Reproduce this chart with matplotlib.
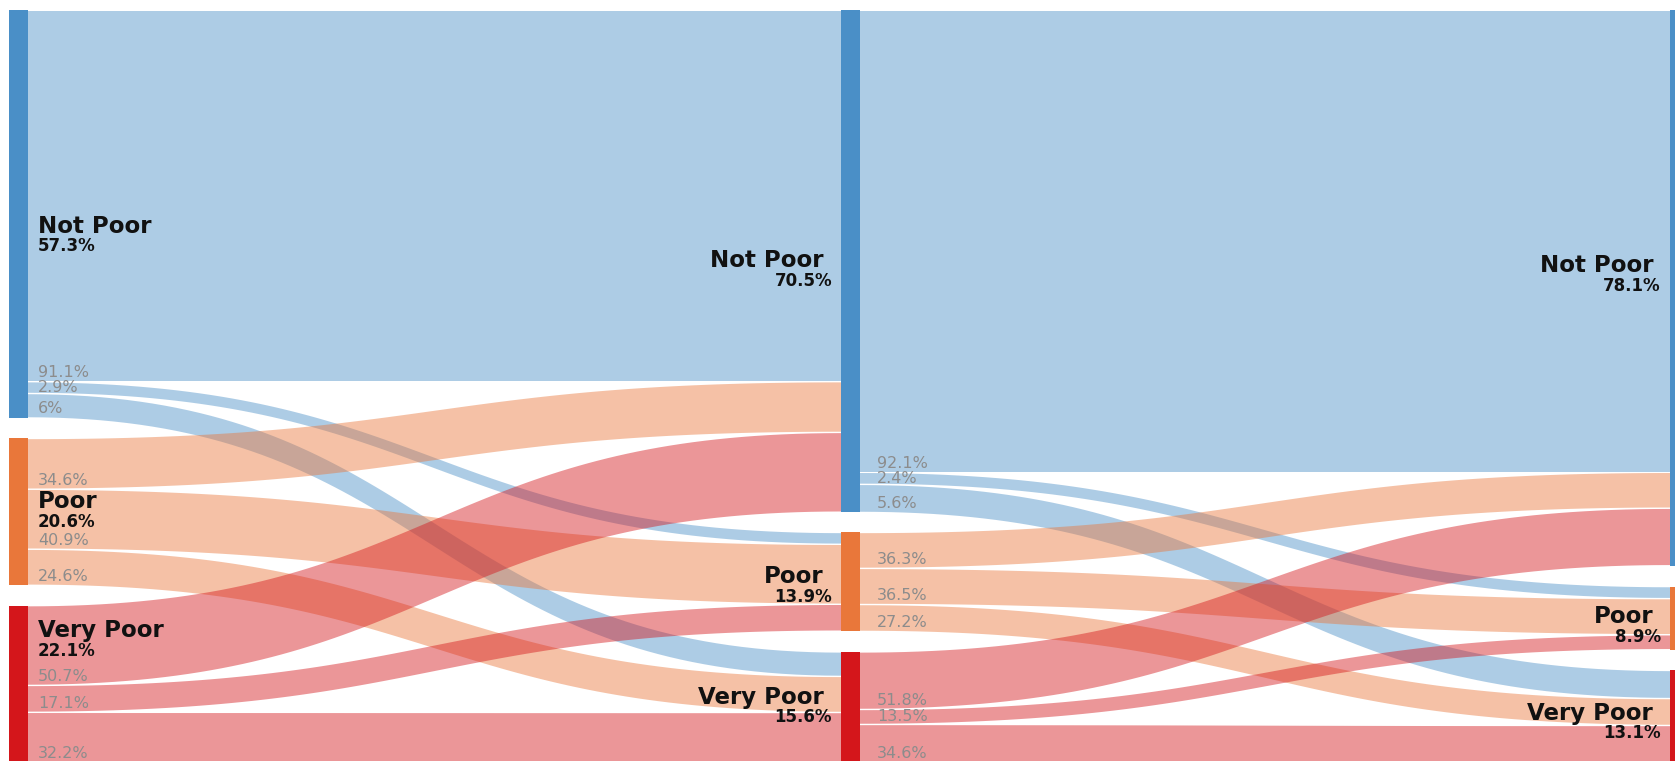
"""
Poverty transition sankey (three time points)
"""

import matplotlib
matplotlib.use('Agg')
import matplotlib.pyplot as plt
from matplotlib.patches import Polygon, Rectangle
import numpy as np

# ---- data ----
categories = ['Not Poor', 'Poor', 'Very Poor']

share_t0 = [57.3, 20.6, 22.1]
share_t1 = [70.5, 13.9, 15.6]
share_t2 = [78.1, 8.9, 13.1]

# row = source category, column = target category (% of source)
trans_t0_t1 = [[91.1, 2.9, 6.0],
               [34.6, 40.9, 24.6],
               [50.7, 17.1, 32.2]]
trans_t1_t2 = [[92.1, 2.4, 5.6],
               [36.3, 36.5, 27.2],
               [51.8, 13.5, 34.6]]

# ---- layout / style ----
W, H = 1675, 761
TOP = 10
PX = 7.12          # pixels per percentage point
GAP = 20.5
BAR_W = 19
col_x = [9, 841, 1670]
label_pad = [10, 17]

node_colors = ['#4a8fc7', '#e9773a', '#d4161b']
link_alpha = 0.45

# where the node name sits inside the node (fraction of node height)
name_frac = [[0.53, 0.43, 0.16],
             [0.50, 0.45, 0.41],
             [0.46, 0.48, 0.46]]

shares = [share_t0, share_t1, share_t2]
transitions = [trans_t0_t1, trans_t1_t2]


def node_tops(share):
    tops = []
    y = TOP
    for s in share:
        tops.append(y)
        y += s * PX + GAP
    return tops


def band(x0, x1, ys0, ys1, yt0, yt1, n=80):
    t = np.linspace(0, 1, n)
    xm = (x0 + x1) / 2
    bx = (1 - t) ** 3 * x0 + 3 * (1 - t) ** 2 * t * xm + 3 * (1 - t) * t ** 2 * xm + t ** 3 * x1

    def by(a, b):
        return (1 - t) ** 3 * a + 3 * (1 - t) ** 2 * t * a + 3 * (1 - t) * t ** 2 * b + t ** 3 * b

    top = np.column_stack([bx, by(ys0, yt0)])
    bot = np.column_stack([bx, by(ys1, yt1)])
    return np.vstack([top, bot[::-1]])


fig = plt.figure(figsize=(W / 100, H / 100), dpi=100)
ax = fig.add_axes([0, 0, 1, 1])
ax.set_xlim(0, W)
ax.set_ylim(H, 0)
ax.axis('off')

tops = [node_tops(s) for s in shares]

# links
link_labels = []
for c, trans in enumerate(transitions):
    src_share = shares[c]
    x0 = col_x[c] + BAR_W
    x1 = col_x[c + 1]
    tgt_offset = list(tops[c + 1])
    for i in range(3):
        src_y = tops[c][i]
        for j in range(3):
            h = src_share[i] * trans[i][j] / 100 * PX
            ty = tgt_offset[j]
            inset = 0.7 if h > 3 else 0.2
            poly = band(x0, x1, src_y + inset, src_y + h - inset,
                        ty + inset, ty + h - inset)
            ax.add_patch(Polygon(poly, closed=True, facecolor=node_colors[i],
                                 alpha=link_alpha, edgecolor='none', zorder=1))
            link_labels.append((x0 + label_pad[c], src_y + h - min(9, h / 2),
                                f'{trans[i][j]:g}%'))
            src_y += h
            tgt_offset[j] += h

# nodes
for c, share in enumerate(shares):
    for i, s in enumerate(share):
        ax.add_patch(Rectangle((col_x[c], tops[c][i]), BAR_W, s * PX,
                               facecolor=node_colors[i], edgecolor='none', zorder=3))

# link percentages
for x, y, txt in link_labels:
    ax.text(x, y, txt, ha='left', va='center', fontsize=11.5,
            color='#8c8c8c', zorder=4)

# node labels
for c, share in enumerate(shares):
    for i, s in enumerate(share):
        y = tops[c][i] + s * PX * name_frac[c][i]
        if c == 0:
            xn = xp = col_x[c] + BAR_W + 10
            ha = 'left'
        else:
            xn = col_x[c] - 17
            xp = col_x[c] - 9
            ha = 'right'
        ax.text(xn, y, categories[i], ha=ha, va='center', fontsize=16.5,
                fontweight='bold', color='#111111', zorder=5)
        ax.text(xp, y + 20, f'{s}%', ha=ha, va='center', fontsize=12,
                fontweight='bold', color='#111111', zorder=5)

plt.savefig('out.png', dpi=100)
plt.close()
